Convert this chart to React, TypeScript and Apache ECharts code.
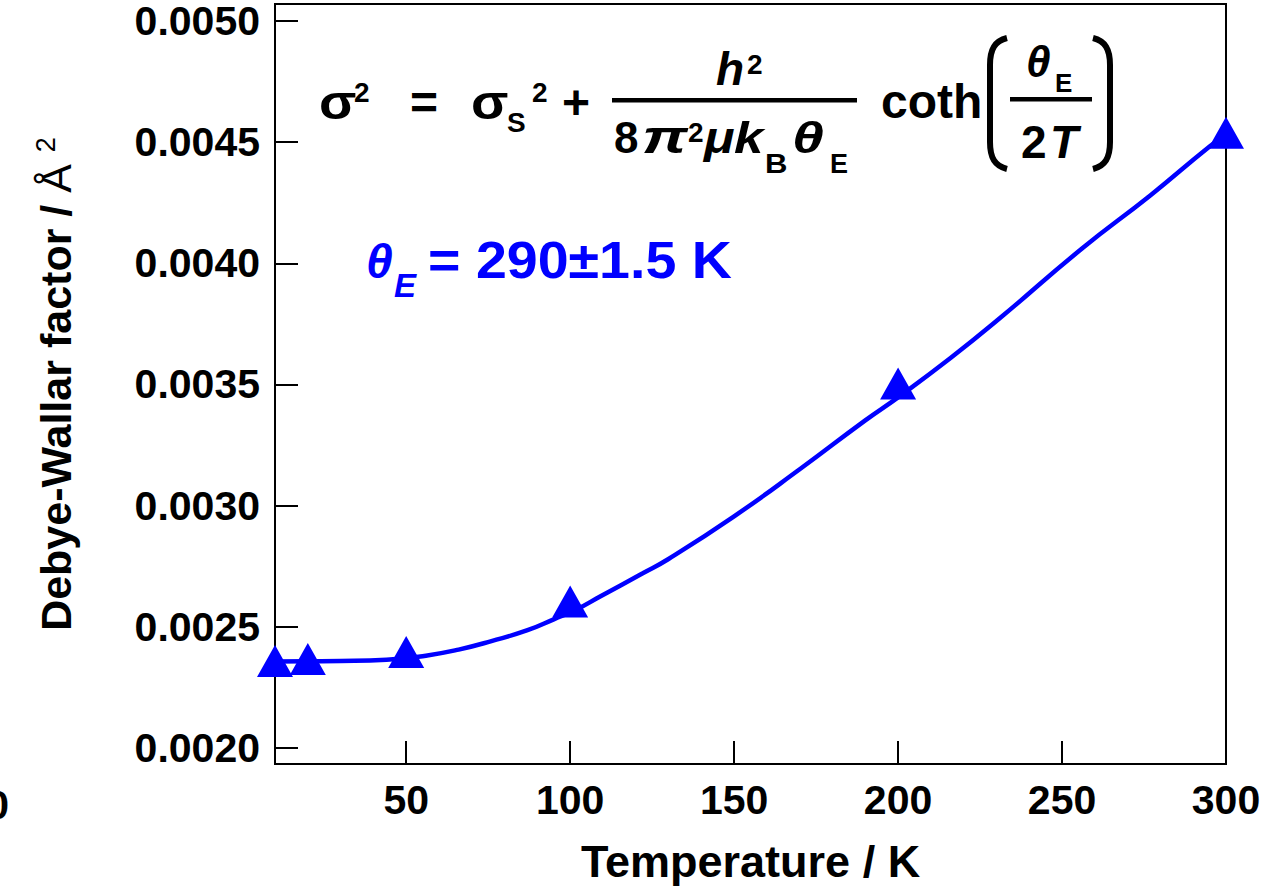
import React, { useEffect, useRef } from "react";
import * as echarts from "echarts";

// ---- data ----
const tempK = [10, 20, 50, 100, 200, 300];
const dwFactor = [0.002359, 0.002367, 0.002396, 0.002605, 0.003504, 0.004539];

// fitted Einstein-model curve
const fitT = [10, 20, 30, 44, 56, 66, 76, 87, 95, 102, 109, 122, 130, 150, 170, 190, 200, 216, 231, 256, 277, 295, 300];
const fitY = [
  0.002357, 0.002358, 0.002359, 0.002364, 0.002381, 0.002406, 0.002441, 0.002486, 0.002531, 0.002572,
  0.002624, 0.00272, 0.00278, 0.002956, 0.00315, 0.003352, 0.003447, 0.003609, 0.003773, 0.00406,
  0.004281, 0.004482, 0.00453,
];

const xTicks = [50, 100, 150, 200, 250, 300];
const yTicks = [0.002, 0.0025, 0.003, 0.0035, 0.004, 0.0045, 0.005];

const FONT = "'Liberation Sans', Arial, Helvetica, sans-serif";
const BLUE = "#0000ff";

let registered = false;
function registerShapes() {
  if (registered) return;
  registered = true;
  echarts.graphic.registerShape(
    "lparen",
    echarts.graphic.extendPath("M 20 3 C 8 6 3 14 3 30 L 3 107 C 3 123 8 131 20 134", {}) as any
  );
  echarts.graphic.registerShape(
    "rparen",
    echarts.graphic.extendPath("M 0 3 C 12 6 17 14 17 30 L 17 107 C 17 123 12 131 0 134", {}) as any
  );
}

function txt(
  text: string,
  x: number,
  baseline: number,
  fs: number,
  opt: { italic?: boolean; weight?: string; fill?: string; sx?: number } = {}
) {
  return {
    type: "text",
    x,
    y: baseline - 0.3465 * fs,
    scaleX: opt.sx ?? 1,
    silent: true,
    style: {
      text,
      fontSize: fs,
      fontFamily: FONT,
      fontWeight: opt.weight ?? "bold",
      fontStyle: opt.italic ? "italic" : "normal",
      fill: opt.fill ?? "#000",
      align: "left",
      verticalAlign: "middle",
    },
  };
}

export default function App() {
  const ref = useRef<HTMLDivElement>(null);

  useEffect(() => {
    registerShapes();
    const chart = echarts.init(ref.current!, null, { renderer: "svg" });

    const graphic: any[] = [
      // equation
      txt("σ", 319, 119, 48, { sx: 1.14 }),
      txt("2", 354, 102, 28),
      txt("=", 410, 119, 48),
      txt("σ", 471, 119, 48, { sx: 1.14 }),
      txt("S", 507, 132, 28),
      txt("2", 532, 102, 28),
      txt("+", 562, 119, 48),
      { type: "rect", silent: true, shape: { x: 612, y: 98, width: 245, height: 4.5 }, style: { fill: "#000" } },
      txt("h", 716, 85, 46, { italic: true }),
      txt("2", 747, 74, 28),
      txt("8", 614, 153, 44),
      txt("π", 642, 153, 46, { italic: true, sx: 1.4 }),
      txt("2", 688, 142, 28),
      txt("μ", 704, 153, 44, { italic: true, sx: 1.15 }),
      txt("k", 734, 153, 44, { italic: true, sx: 1.2 }),
      txt("B", 765, 173, 27, { sx: 1.15 }),
      txt("θ", 792, 153, 44, { italic: true, sx: 1.3 }),
      txt("E", 830, 173, 27),
      txt("coth", 881, 118, 48),
      { type: "lparen", silent: true, x: 987, y: 35, style: { stroke: "#000", fill: "none", lineWidth: 6 } },
      { type: "rparen", silent: true, x: 1093, y: 35, style: { stroke: "#000", fill: "none", lineWidth: 6 } },
      txt("θ", 1026, 77, 44, { italic: true }),
      txt("E", 1055, 92, 26),
      { type: "rect", silent: true, shape: { x: 1010, y: 97, width: 82, height: 4.5 }, style: { fill: "#000" } },
      txt("2", 1021, 158, 46),
      txt("T", 1050, 158, 46, { italic: true }),
      // fitted parameter
      txt("θ", 366, 278, 48, { italic: true, fill: BLUE }),
      txt("E", 394, 297, 33, { italic: true, fill: BLUE }),
      txt("= 290±1.5 K", 428, 278, 51, { fill: BLUE, sx: 1.09 }),
      // stray label at the left edge of the reference
      { type: "text", silent: true, x: 9, y: 805, style: { text: "0", fontSize: 41, fontFamily: FONT, fontWeight: "bold", fill: "#000", align: "right", verticalAlign: "middle" } },
    ];

    chart.setOption({
      animation: false,
      backgroundColor: "#fff",
      grid: {
        left: 275,
        right: 47,
        top: 4,
        bottom: 120,
        show: true,
        borderColor: "#000",
        borderWidth: 2,
        containLabel: false,
      },
      xAxis: {
        type: "value",
        min: 10,
        max: 300,
        name: "Temperature / K",
        nameLocation: "middle",
        nameGap: 75,
        nameTextStyle: { fontSize: 45, fontWeight: "bold", fontFamily: FONT, color: "#000" },
        axisLine: { show: true, onZero: false, lineStyle: { color: "#000", width: 2 } },
        axisTick: { show: true, inside: true, length: 23, customValues: xTicks, lineStyle: { color: "#000", width: 2 } },
        axisLabel: {
          customValues: xTicks,
          margin: 15,
          fontSize: 41,
          fontWeight: "bold",
          fontFamily: FONT,
          color: "#000",
        },
        splitLine: { show: false },
      },
      yAxis: {
        type: "value",
        min: 0.001934,
        max: 0.00507,
        name: "{b|Debye-Wallar factor / }{a|Å }{s|2}",
        nameLocation: "middle",
        nameGap: 196,
        nameTextStyle: {
          fontSize: 43,
          fontWeight: "bold",
          fontFamily: FONT,
          color: "#000",
          rich: {
            b: { fontSize: 43, fontWeight: "bold", fontFamily: FONT, color: "#000", lineHeight: 47 },
            a: { fontSize: 43, fontWeight: "normal", fontFamily: FONT, color: "#000", lineHeight: 47 },
            s: { fontSize: 27, fontWeight: "normal", fontFamily: FONT, color: "#000", lineHeight: 27, verticalAlign: "top" },
          },
        },
        axisLine: { show: true, onZero: false, lineStyle: { color: "#000", width: 2 } },
        axisTick: { show: true, inside: true, length: 23, customValues: yTicks, lineStyle: { color: "#000", width: 2 } },
        axisLabel: {
          customValues: yTicks,
          margin: 15,
          fontSize: 41,
          fontWeight: "bold",
          fontFamily: FONT,
          color: "#000",
          formatter: (v: number) => v.toFixed(4),
        },
        splitLine: { show: false },
      },
      series: [
        {
          name: "Einstein fit",
          type: "line",
          data: fitT.map((t, i) => [t, fitY[i]]),
          smooth: 0.5,
          showSymbol: false,
          symbol: "none",
          lineStyle: { color: BLUE, width: 4.5 },
          z: 2,
        },
        {
          name: "Debye-Waller factor",
          type: "scatter",
          data: tempK.map((t, i) => [t, dwFactor[i]]),
          symbol: "triangle",
          symbolSize: [36, 32],
          itemStyle: { color: BLUE, opacity: 1 },
          clip: false,
          z: 3,
        },
      ],
      graphic,
    });

    return () => chart.dispose();
  }, []);

  return (
    <div
      ref={ref}
      style={{ position: "fixed", left: 0, top: 0, width: 1273, height: 889, background: "#fff" }}
    />
  );
}
